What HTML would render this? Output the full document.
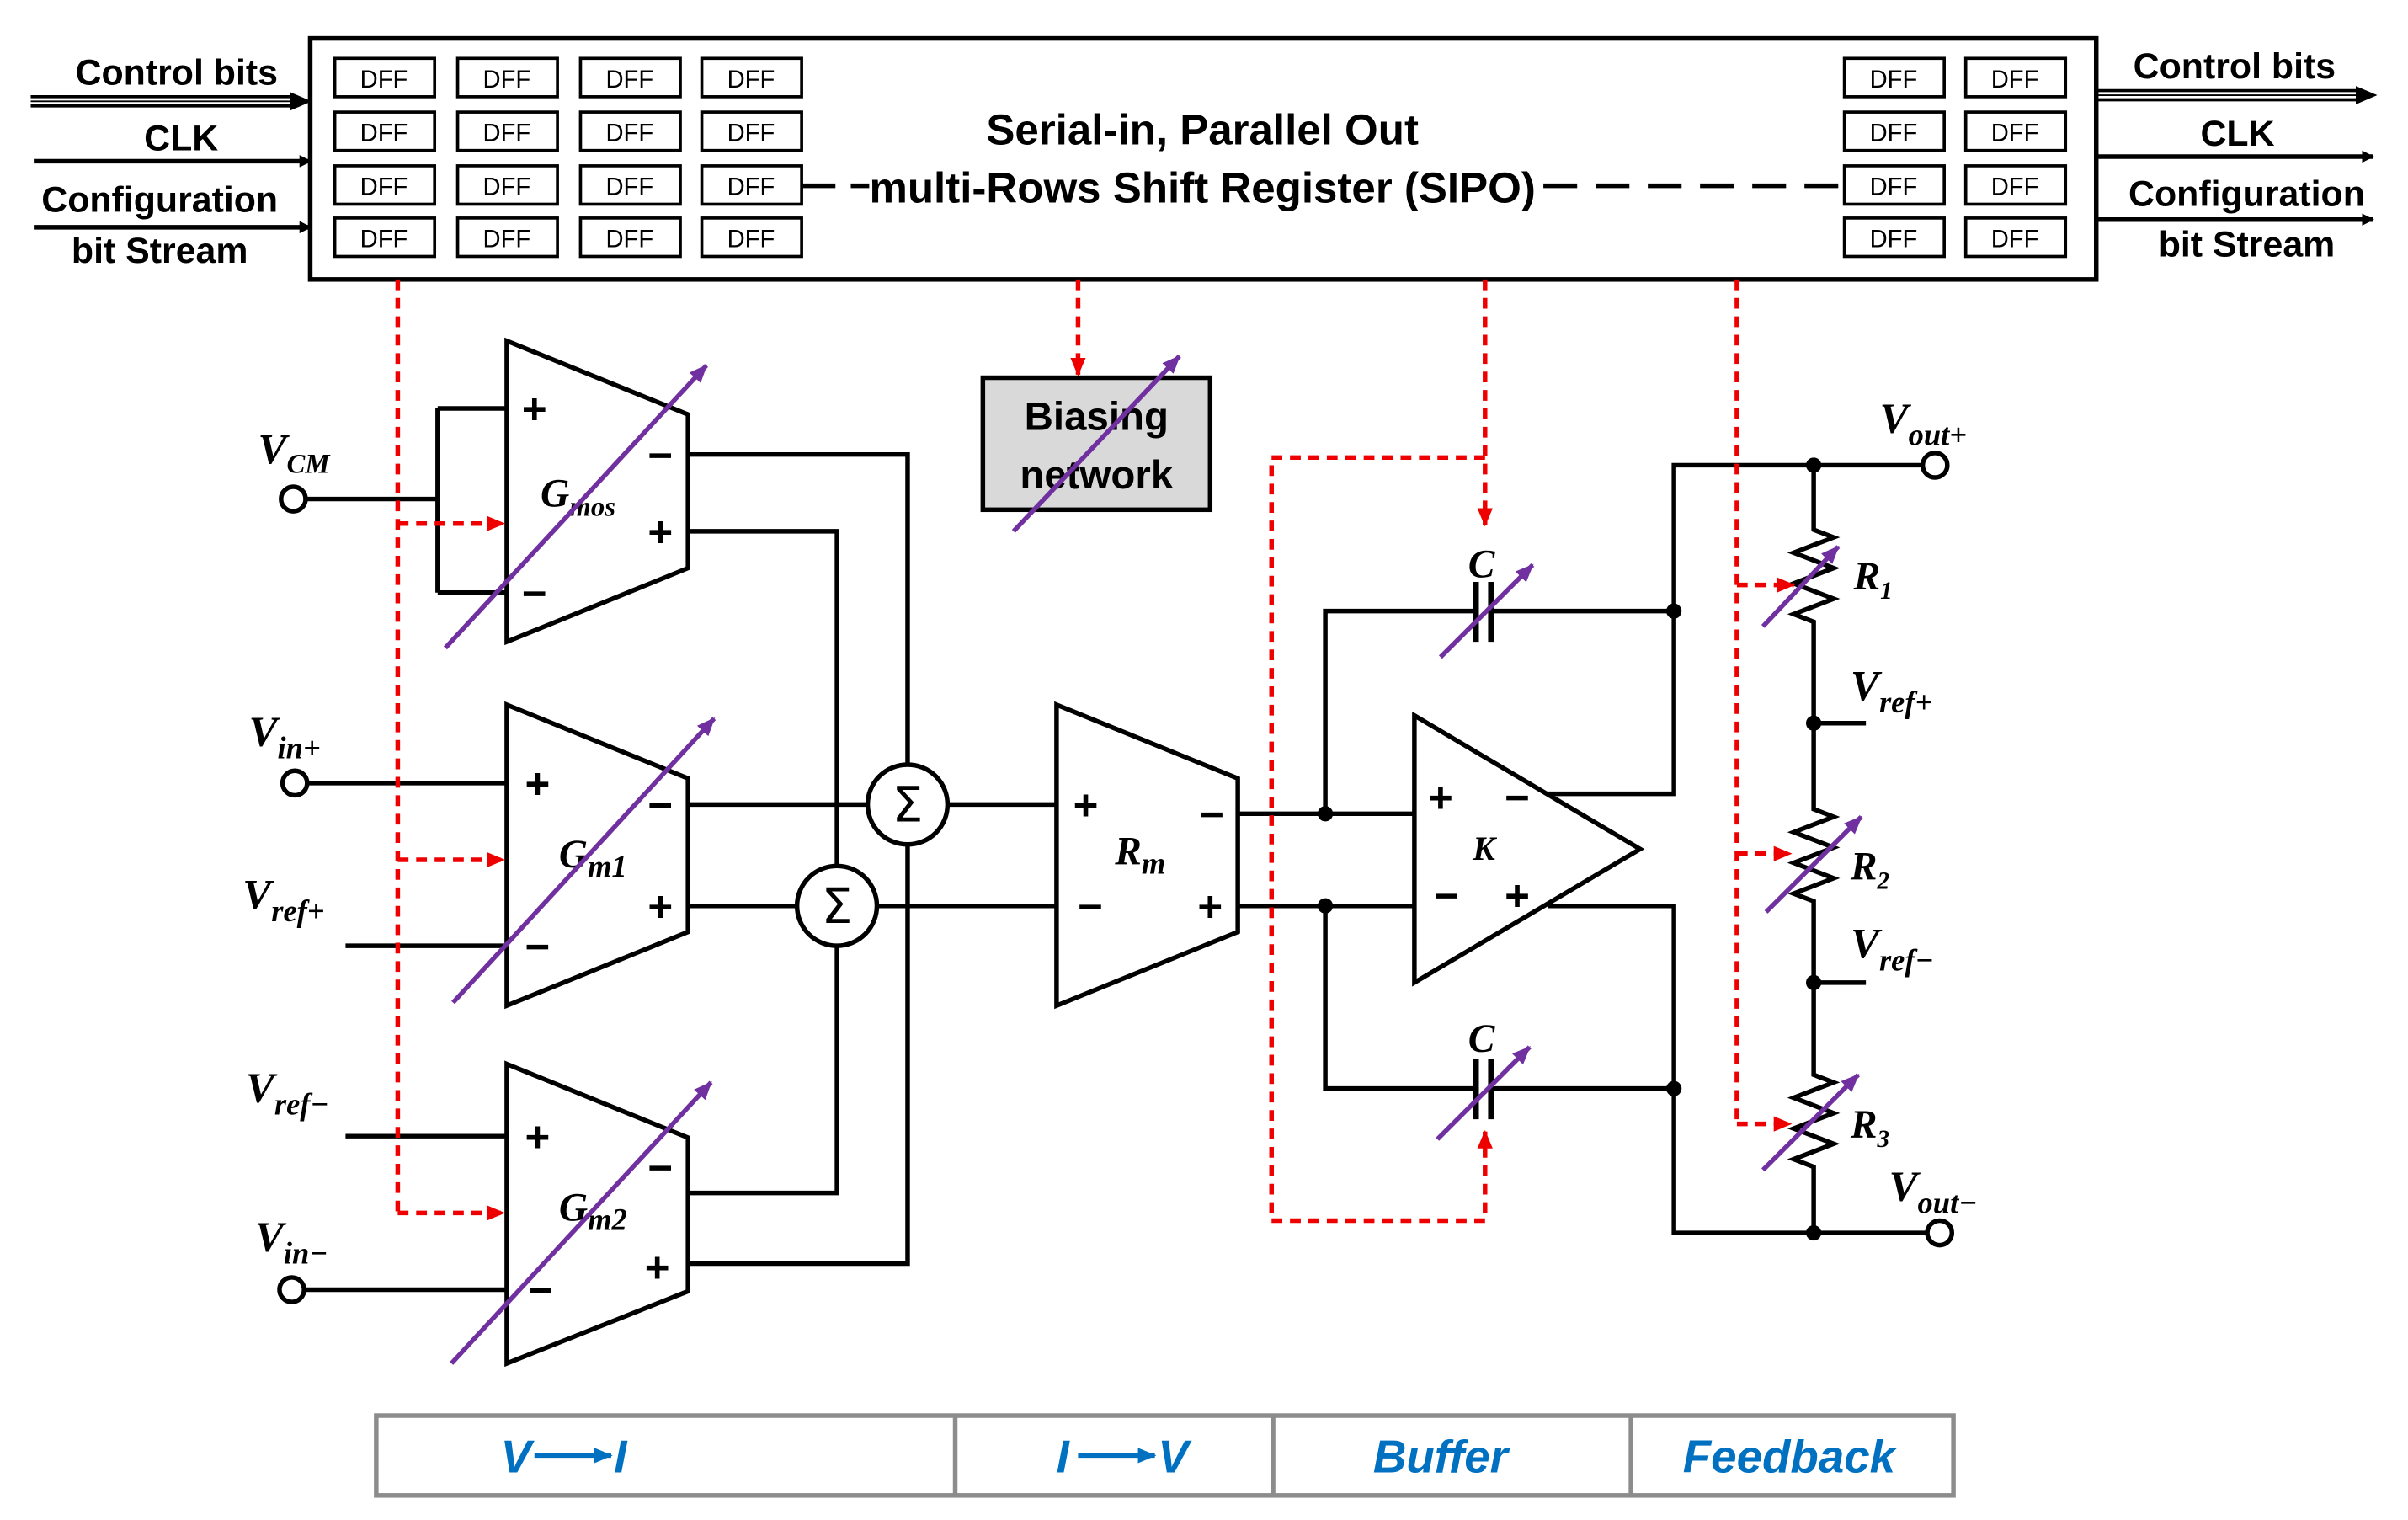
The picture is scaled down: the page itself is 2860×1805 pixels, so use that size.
<!DOCTYPE html>
<html><head><meta charset="utf-8"><style>
html,body{margin:0;padding:0;background:#fff;}
svg{display:block;}
.s{font-family:"Liberation Sans",sans-serif;font-weight:bold;}
.m{font-family:"Liberation Serif",serif;font-weight:bold;font-style:italic;}
</style></head><body>
<svg width="2860" height="1805" viewBox="0 0 1568 990" preserveAspectRatio="none" xmlns="http://www.w3.org/2000/svg">
<defs>
<marker id="ak" markerWidth="8" markerHeight="8" refX="7" refY="4" orient="auto" markerUnits="userSpaceOnUse"><path d="M0,0 L8,4 L0,8 z" fill="#000"/></marker>
<marker id="ab" markerWidth="14" markerHeight="12" refX="13" refY="6" orient="auto" markerUnits="userSpaceOnUse"><path d="M0,0 L14,6 L0,12 z" fill="#000"/></marker>
<marker id="ar" markerWidth="12" markerHeight="12" refX="11" refY="6" orient="auto" markerUnits="userSpaceOnUse"><path d="M0,1 L12,6 L0,11 z" fill="#e00"/></marker>
<marker id="ap" markerWidth="12" markerHeight="10" refX="11" refY="5" orient="auto" markerUnits="userSpaceOnUse"><path d="M0,0 L12,5 L0,10 z" fill="#7030a0"/></marker>
<marker id="abl" markerWidth="12" markerHeight="10" refX="11" refY="5" orient="auto" markerUnits="userSpaceOnUse"><path d="M0,0 L12,5 L0,10 z" fill="#0070c0"/></marker>
</defs>
<rect width="1568" height="990" fill="#fff"/>
<rect x="202" y="25" width="1163" height="157" fill="#fff" stroke="#000" stroke-width="3"/>
<g fill="#fff" stroke="#000" stroke-width="2">
<g id="col">
<rect x="218" y="38" width="65" height="25"/><rect x="218" y="73" width="65" height="25"/><rect x="218" y="108" width="65" height="25"/><rect x="218" y="142" width="65" height="25"/>
</g>
<use href="#col" x="80"/><use href="#col" x="160"/><use href="#col" x="239"/><use href="#col" x="983"/><use href="#col" x="1062"/>
</g>
<g class="s" font-size="16" text-anchor="middle">
<g id="ct"><text x="250" y="57" font-weight="normal">DFF</text><text x="250" y="92" font-weight="normal">DFF</text><text x="250" y="127" font-weight="normal">DFF</text><text x="250" y="161" font-weight="normal">DFF</text></g>
<use href="#ct" x="80"/><use href="#ct" x="160"/><use href="#ct" x="239"/><use href="#ct" x="983"/><use href="#ct" x="1062"/>
</g>
<text class="s" x="783" y="94" font-size="28" text-anchor="middle">Serial-in, Parallel Out</text>
<text class="s" x="783" y="132" font-size="28" text-anchor="middle">multi-Rows Shift Register (SIPO)</text>
<line x1="522" y1="121" x2="566" y2="121" stroke="#000" stroke-width="3" stroke-dasharray="22,10"/>
<line x1="1005" y1="121" x2="1201" y2="121" stroke="#000" stroke-width="3" stroke-dasharray="22,12"/>
<g class="s" font-size="23.5" text-anchor="middle">
<text x="115" y="55">Control bits</text><text x="118" y="98">CLK</text><text x="104" y="138">Configuration</text><text x="104" y="171">bit Stream</text>
<text x="1455" y="51">Control bits</text><text x="1457" y="95">CLK</text><text x="1463" y="134">Configuration</text><text x="1463" y="167">bit Stream</text>
</g>
<g stroke="#000" fill="none">
<line x1="20" y1="63" x2="190" y2="63" stroke-width="2"/><line x1="20" y1="69" x2="190" y2="69" stroke-width="2"/>
<line x1="20" y1="66" x2="202" y2="66" stroke-width="1" marker-end="url(#ab)"/>
<line x1="22" y1="105" x2="202" y2="105" stroke-width="3" marker-end="url(#ak)"/>
<line x1="22" y1="148" x2="202" y2="148" stroke-width="3" marker-end="url(#ak)"/>
<line x1="1365" y1="59" x2="1535" y2="59" stroke-width="2"/><line x1="1365" y1="65" x2="1535" y2="65" stroke-width="2"/>
<line x1="1365" y1="62" x2="1547" y2="62" stroke-width="1" marker-end="url(#ab)"/>
<line x1="1365" y1="102" x2="1545" y2="102" stroke-width="3" marker-end="url(#ak)"/>
<line x1="1365" y1="143" x2="1545" y2="143" stroke-width="3" marker-end="url(#ak)"/>
</g>
<g stroke="#000" stroke-width="3" fill="none">
<path d="M330,222 L448,270 L448,370 L330,418 Z"/>
<path d="M330,459 L448,507 L448,607 L330,655 Z"/>
<path d="M330,693 L448,741 L448,841 L330,888 Z"/>
<path d="M688,459 L806,507 L806,607 L688,655 Z"/>
<path d="M921,466 L1068,553 L921,640 Z"/>
<path d="M198,325 H285 M285,266 V386 M285,266 H330 M285,386 H330"/>
<path d="M199,510 H330 M225,616 H330 M225,740 H330 M197,840 H330"/>
<path d="M448,296 H591 V823 H448 M448,346 H545 V777 H448"/>
<path d="M448,524 H565 M448,590 H519 M617,524 H688 M571,590 H688"/>
<path d="M806,530 H921 M806,590 H921"/>
<path d="M863,530 V398 H961 M971,398 H1090 M863,590 V709 H961 M971,709 H1090"/>
<path d="M1008,517 H1090 V303 H1253 M1008,590 H1090 V803 H1256"/>
<path d="M1181,303 V345 L1194,350 L1168,360 L1194,370 L1168,380 L1194,390 L1168,400 L1181,405 V527 L1194,532 L1168,542 L1194,552 L1168,562 L1194,572 L1168,582 L1181,587 V700 L1194,705 L1168,715 L1194,725 L1168,735 L1194,745 L1168,755 L1181,760 V803"/>
<path d="M1181,471 H1215 M1181,640 H1215"/>
</g>
<g stroke="#000" stroke-width="4"><line x1="961" y1="379" x2="961" y2="418"/><line x1="971" y1="379" x2="971" y2="418"/><line x1="961" y1="690" x2="961" y2="729"/><line x1="971" y1="690" x2="971" y2="729"/></g>
<g fill="#fff" stroke="#000" stroke-width="3">
<circle cx="591" cy="524" r="26"/><circle cx="545" cy="590" r="26"/>
<circle cx="191" cy="325" r="8"/><circle cx="192" cy="510" r="8"/><circle cx="190" cy="840" r="8"/>
<circle cx="1260" cy="303" r="8"/><circle cx="1263" cy="803" r="8"/>
</g>
<g fill="#000"><circle cx="863" cy="530" r="5"/><circle cx="863" cy="590" r="5"/><circle cx="1090" cy="398" r="5"/><circle cx="1090" cy="709" r="5"/><circle cx="1181" cy="303" r="5"/><circle cx="1181" cy="803" r="5"/><circle cx="1181" cy="471" r="5"/><circle cx="1181" cy="640" r="5"/></g>
<g font-family="DejaVu Sans,sans-serif" font-size="32" text-anchor="middle"><text x="591" y="535">Σ</text><text x="545" y="601">Σ</text></g>
<g class="s" font-size="28" text-anchor="middle">
<text x="348" y="276">+</text><text x="430" y="306">−</text><text x="430" y="356">+</text><text x="348" y="396">−</text>
<text x="350" y="520">+</text><text x="430" y="534">−</text><text x="430" y="600">+</text><text x="350" y="626">−</text>
<text x="350" y="750">+</text><text x="430" y="770">−</text><text x="428" y="835">+</text><text x="352" y="850">−</text>
<text x="707" y="534">+</text><text x="789" y="540">−</text><text x="710" y="600">−</text><text x="788" y="600">+</text>
<text x="938" y="529">+</text><text x="988" y="529">−</text><text x="942" y="593">−</text><text x="988" y="593">+</text>
</g>
<rect x="640" y="246" width="148" height="86" fill="#d9d9d9" stroke="#000" stroke-width="3"/>
<text class="s" x="714" y="280" font-size="26" text-anchor="middle">Biasing</text>
<text class="s" x="714" y="318" font-size="26" text-anchor="middle">network</text>
<g class="m" font-size="26">
<text x="352" y="330">G<tspan font-size="18" dy="6">mos</tspan></text>
<text x="364" y="565">G<tspan font-size="20" dy="6">m1</tspan></text>
<text x="364" y="795">G<tspan font-size="20" dy="6">m2</tspan></text>
<text x="726" y="563">R<tspan font-size="20" dy="6">m</tspan></text>
<text x="959" y="560" font-size="22">K</text>
<text x="956" y="376">C</text><text x="956" y="685">C</text>
<text x="168" y="302" font-size="28">V<tspan font-size="18" dy="6">CM</tspan></text>
<text x="162" y="486" font-size="28">V<tspan font-size="20" dy="8">in+</tspan></text>
<text x="158" y="592" font-size="28">V<tspan font-size="20" dy="8">ref+</tspan></text>
<text x="160" y="718" font-size="28">V<tspan font-size="20" dy="8">ref−</tspan></text>
<text x="166" y="815" font-size="28">V<tspan font-size="20" dy="8">in−</tspan></text>
<text x="1224" y="282" font-size="28">V<tspan font-size="20" dy="8">out+</tspan></text>
<text x="1205" y="456" font-size="28">V<tspan font-size="20" dy="8">ref+</tspan></text>
<text x="1205" y="624" font-size="28">V<tspan font-size="20" dy="8">ref−</tspan></text>
<text x="1230" y="782" font-size="28">V<tspan font-size="20" dy="8">out−</tspan></text>
<text x="1207" y="384">R<tspan font-size="16" dy="6">1</tspan></text>
<text x="1205" y="573">R<tspan font-size="16" dy="6">2</tspan></text>
<text x="1205" y="741">R<tspan font-size="16" dy="6">3</tspan></text>
</g>
<g stroke="#e00" stroke-width="3" fill="none" stroke-dasharray="7,5">
<path d="M259,182 V790"/>
<path d="M259,341 H328" marker-end="url(#ar)"/>
<path d="M259,560 H328" marker-end="url(#ar)"/>
<path d="M259,790 H328" marker-end="url(#ar)"/>
<path d="M702,182 V244" marker-end="url(#ar)"/>
<path d="M967,182 V342" marker-end="url(#ar)"/>
<path d="M967,298 H828 V795 H967 V737" marker-end="url(#ar)"/>
<path d="M1131,182 V732"/>
<path d="M1131,381 H1168" marker-end="url(#ar)"/>
<path d="M1131,556 H1166" marker-end="url(#ar)"/>
<path d="M1131,732 H1166" marker-end="url(#ar)"/>
</g>
<g stroke="#7030a0" stroke-width="3" fill="none">
<line x1="290" y1="422" x2="460" y2="238" marker-end="url(#ap)"/>
<line x1="295" y1="653" x2="465" y2="468" marker-end="url(#ap)"/>
<line x1="294" y1="888" x2="463" y2="705" marker-end="url(#ap)"/>
<line x1="660" y1="346" x2="768" y2="232" marker-end="url(#ap)"/>
<line x1="938" y1="428" x2="998" y2="368" marker-end="url(#ap)"/>
<line x1="936" y1="742" x2="996" y2="682" marker-end="url(#ap)"/>
<line x1="1148" y1="408" x2="1197" y2="356" marker-end="url(#ap)"/>
<line x1="1150" y1="594" x2="1212" y2="532" marker-end="url(#ap)"/>
<line x1="1148" y1="762" x2="1210" y2="700" marker-end="url(#ap)"/>
</g>
<g stroke="#8c8c8c" stroke-width="3" fill="none">
<rect x="245" y="922" width="1027" height="52"/>
<line x1="622" y1="922" x2="622" y2="974"/><line x1="829" y1="922" x2="829" y2="974"/><line x1="1062" y1="922" x2="1062" y2="974"/>
</g>
<g class="s" font-size="30" font-style="italic" fill="#0070c0" text-anchor="middle">
<text x="336" y="959">V</text><text x="404" y="959">I</text>
<text x="692" y="959">I</text><text x="764" y="959">V</text>
<text x="938" y="959">Buffer</text><text x="1165" y="959">Feedback</text>
</g>
<g stroke="#0070c0" stroke-width="3"><line x1="348" y1="948" x2="398" y2="948" marker-end="url(#abl)"/><line x1="702" y1="948" x2="752" y2="948" marker-end="url(#abl)"/></g>
</svg>
</body></html>
